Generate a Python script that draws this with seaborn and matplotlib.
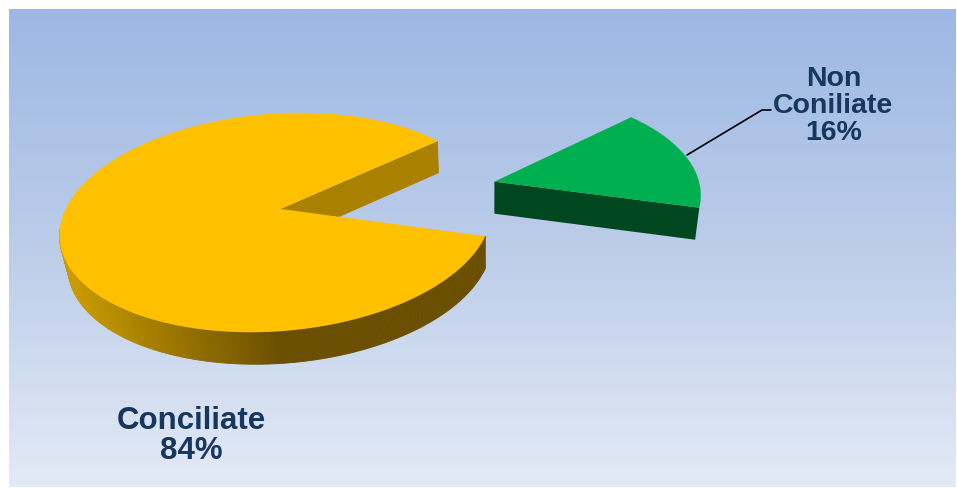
import numpy as np
import matplotlib
matplotlib.use("Agg")
import matplotlib.pyplot as plt
import seaborn as sns

categories = ["Conciliate", "Non\nConiliate"]
shares = [84, 16]

TEXT_COLOR = "#17375e"
TOP_COLORS = ["#ffc000", "#00b050"]

sns.set_style("white")
plt.rcParams["font.family"] = ["Liberation Sans", "DejaVu Sans"]

# pie plane seen in perspective: unit circle -> ellipse, circle centre -> apex
CX, CY = 275.5, 222.5
L = np.array([[216.0, 0.0], [-12.73, 109.0]])
U = 0.1236
PHI = np.radians(-79.1)
START = 42.4   # degrees in circle frame where the small slice begins
EXPLODE = 1.05
DEPTH = 32.0


def project(x, y):
    x = np.asarray(x, dtype=float)
    y = np.asarray(y, dtype=float)
    den = 1 + U * x
    bx = (x + U) / den
    by = y * np.sqrt(1 - U ** 2) / den
    qx = bx * np.cos(PHI) - by * np.sin(PHI)
    qy = bx * np.sin(PHI) + by * np.cos(PHI)
    return CX + L[0, 0] * qx, CY + L[1, 0] * qx + L[1, 1] * qy


def lower(sx, sy):
    # vertical edges converge a little towards the bottom
    return sx - 0.02 * (sx - 490), sy + DEPTH


fig = plt.figure(figsize=(9.57, 4.88), dpi=100)
fig.patch.set_facecolor("white")
ax = fig.add_axes([0, 0, 1, 1])

grad = np.linspace(0, 1, 256).reshape(-1, 1)
bg = sns.blend_palette(["#9db8e4", "#bccde9", "#e3eaf6"], as_cmap=True)
ax.imshow(grad, cmap=bg, extent=(9, 956, 487.5, 10), aspect="auto", zorder=0)

ax.set_xlim(0, 957)
ax.set_ylim(488, 0)
ax.axis("off")

# slice angles from the shares
green_span = 360 * shares[1] / sum(shares)
yellow_span = 360 * shares[0] / sum(shares)
green_t = np.radians(np.linspace(START, START + green_span, 80))
yellow_t = np.radians(np.linspace(START + green_span, START + green_span + yellow_span, 400))

# yellow slice
ax_x, ax_y = project(0, 0)
rim_x, rim_y = project(np.cos(yellow_t), np.sin(yellow_t))
low_x, low_y = lower(rim_x, rim_y)

# outer wall, shaded by screen position
wall_pal = sns.blend_palette(["#c89a00", "#6b4f00"], n_colors=64)
last = np.argmin(rim_x) + 4
for i in range(last):
    mid = (rim_x[i] + rim_x[i + 1]) / 2
    k = int(np.clip((mid - 70) / 205, 0, 1) * 63)
    ax.fill([rim_x[i], rim_x[i + 1], low_x[i + 1], low_x[i]],
            [rim_y[i], rim_y[i + 1], low_y[i + 1], low_y[i]],
            color=wall_pal[k], lw=0.6, zorder=2)

# inner cut face at the far end of the big slice
a_lx, a_ly = lower(ax_x, ax_y)
ax.fill([ax_x, rim_x[-1], low_x[-1], a_lx],
        [ax_y, rim_y[-1], low_y[-1], a_ly],
        color="#a98000", lw=0, zorder=2)

ax.fill(np.r_[ax_x, rim_x], np.r_[ax_y, rim_y], color=TOP_COLORS[0], lw=0, zorder=3)

# green slice, pulled out along its bisector
mid_t = np.radians(START + green_span / 2)
ox, oy = EXPLODE * np.cos(mid_t), EXPLODE * np.sin(mid_t)
g_ax, g_ay = project(ox, oy)
g_x, g_y = project(ox + 1.02 * np.cos(green_t), oy + 1.02 * np.sin(green_t))
g_lx, g_ly = lower(g_x, g_y)
g_alx, g_aly = lower(g_ax, g_ay)

ax.fill([g_ax, g_x[-1], g_lx[-1], g_alx],
        [g_ay, g_y[-1], g_ly[-1], g_aly],
        color="#00461f", lw=0, zorder=2)
ax.fill(np.r_[g_ax, g_x], np.r_[g_ay, g_y], color=TOP_COLORS[1], lw=0, zorder=3)

# labels
ax.plot([687, 762, 771], [155, 110, 110], color="black", lw=1.2, zorder=4)
ax.text(833.5, 106, f"{categories[1]}\n{shares[1]}%", ha="center", va="center",
        fontsize=20.5, fontweight="bold", color=TEXT_COLOR, linespacing=1.07, zorder=5)
ax.text(191, 436, f"{categories[0]}\n{shares[0]}%", ha="center", va="center",
        fontsize=22.5, fontweight="bold", color=TEXT_COLOR, linespacing=1.03, zorder=5)

plt.savefig("out.png", dpi=100)
